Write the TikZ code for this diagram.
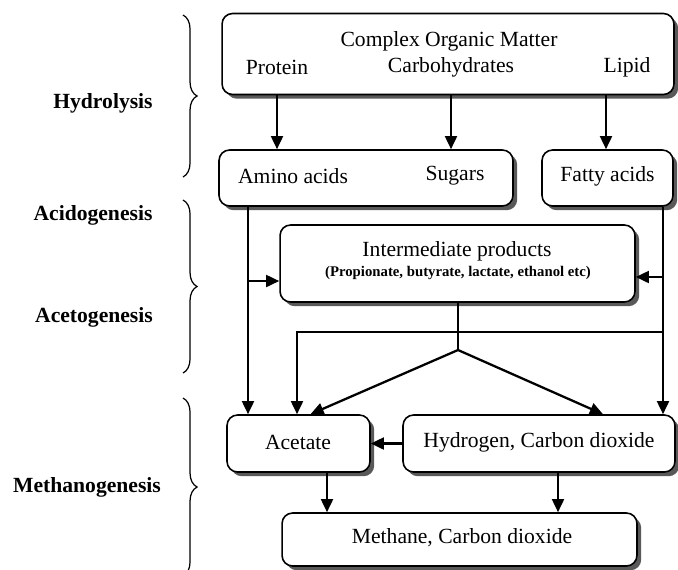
\documentclass[tikz,border=0pt]{standalone}
\usepackage{fontspec}
\setmainfont{Liberation Serif}
\usetikzlibrary{arrows.meta, calc, decorations.pathreplacing, shadows}

\begin{document}
\begin{tikzpicture}[
            x=0.02cm, y=-0.02cm,
            >={Triangle[length=7.5pt, width=6.8pt]},
            font=\fontsize{12.3}{14}\selectfont,
            box/.style={draw, line width=0.9pt, rounded corners=6pt, fill=white, inner sep=0pt,
                drop shadow={shadow xshift=2.4pt, shadow yshift=-2.4pt, fill=black!65, opacity=1}},
            txt/.style={inner sep=0pt},
            small/.style={inner sep=0pt, font=\fontsize{8.4}{10}\selectfont\bfseries},
            phase/.style={inner sep=0pt, font=\fontsize{12.3}{14}\selectfont\bfseries},
            flow/.style={->, line width=1.3pt},
            link/.style={line width=1.3pt},
            curly/.style={decorate, decoration={brace, amplitude=8pt}, line width=0.7pt}
        ]
        \useasboundingbox (0,0) rectangle (678,569);

        % Boxes
        \node[box, minimum width=9.04cm, minimum height=1.62cm] (com) at (448,54) {};
        \node[box, minimum width=5.88cm, minimum height=1.12cm] (amino) at (366,178) {};
        \node[box, minimum width=2.62cm, minimum height=1.12cm] (fatty) at (607.5,178) {};
        \node[box, minimum width=7.1cm, minimum height=1.54cm] (inter) at (457.5,263.5) {};
        \node[box, minimum width=2.86cm, minimum height=1.14cm] (acet) at (298.5,443.5) {};
        \node[box, minimum width=5.44cm, minimum height=1.14cm] (hyd) at (539,443.5) {};
        \node[box, minimum width=7.1cm, minimum height=1.06cm] (meth) at (459.5,539.5) {};

        % Texts in the boxes
        \node[txt] (comt) at (449,41) {Complex Organic Matter};
        \node[txt] (prot) at (277,67) {Protein};
        \node[txt] (carb) at (451,67) {Carbohydrates};
        \node[txt] (lip) at (627,67) {Lipid};
        \node[txt] (aa) at (293,176) {Amino acids};
        \node[txt] (sug) at (455,176) {Sugars};
        \node[txt] (fa) at (607.5,176) {Fatty acids};
        \node[txt] (intt) at (457,251) {Intermediate products};
        \node[small] (ints) at (458,273) {(Propionate, butyrate, lactate, ethanol etc)};
        \node[txt] (act) at (298,442) {Acetate};
        \node[txt] (hydt) at (539,442) {Hydrogen, Carbon dioxide};
        \node[txt] (metht) at (462,538) {Methane, Carbon dioxide};

        % Phases
        \node[phase] (hydro) at (103,103) {Hydrolysis};
        \node[phase] (acido) at (93,215) {Acidogenesis};
        \node[phase] (aceto) at (94,317) {Acetogenesis};
        \node[phase] (metha) at (87,487) {Methanogenesis};

        \draw[curly] (183,15) -- (183,177);
        \draw[curly] (183,200) -- (183,373);
        \draw[curly] (183,398) -- (183,576);

        % Hydrolysis
        \coordinate (dl) at (606,0);
        \draw[flow] (prot |- com.south) -- (prot |- amino.north);
        \draw[flow] (carb |- com.south) -- (carb |- amino.north);
        \draw[flow] (com.south -| dl) -- (fatty.north -| dl);

        % Side lines
        \coordinate (bl) at (248,281);
        \coordinate (br) at (663,277);
        \draw[flow] (amino.south -| bl) -- (acet.north -| bl);
        \draw[flow] (fatty.south -| br) -- (hyd.north -| br);
        \draw[flow] (bl) -- (bl -| inter.west);
        \draw[flow] (br) -- (br -| inter.east);

        % Acetogenesis
        \coordinate (hr) at (663,332);
        \coordinate (hl) at (297,332);
        \coordinate (fork) at (458,350);
        \draw[flow] (hr) -- (hl) -- (hl |- acet.north);
        \draw[link] (inter.south -| fork) -- (fork);
        \draw[flow] (fork) -- ($(acet.north)+(12,0)$);
        \draw[flow] (fork) -- ($(hyd.north)+(64,0)$);

        % Methanogenesis
        \coordinate (da) at (327,0);
        \coordinate (dh) at (558,0);
        \draw[flow] (hyd.west) -- (acet.east);
        \draw[flow] (acet.south -| da) -- (meth.north -| da);
        \draw[flow] (hyd.south -| dh) -- (meth.north -| dh);

\end{tikzpicture}
\end{document}
